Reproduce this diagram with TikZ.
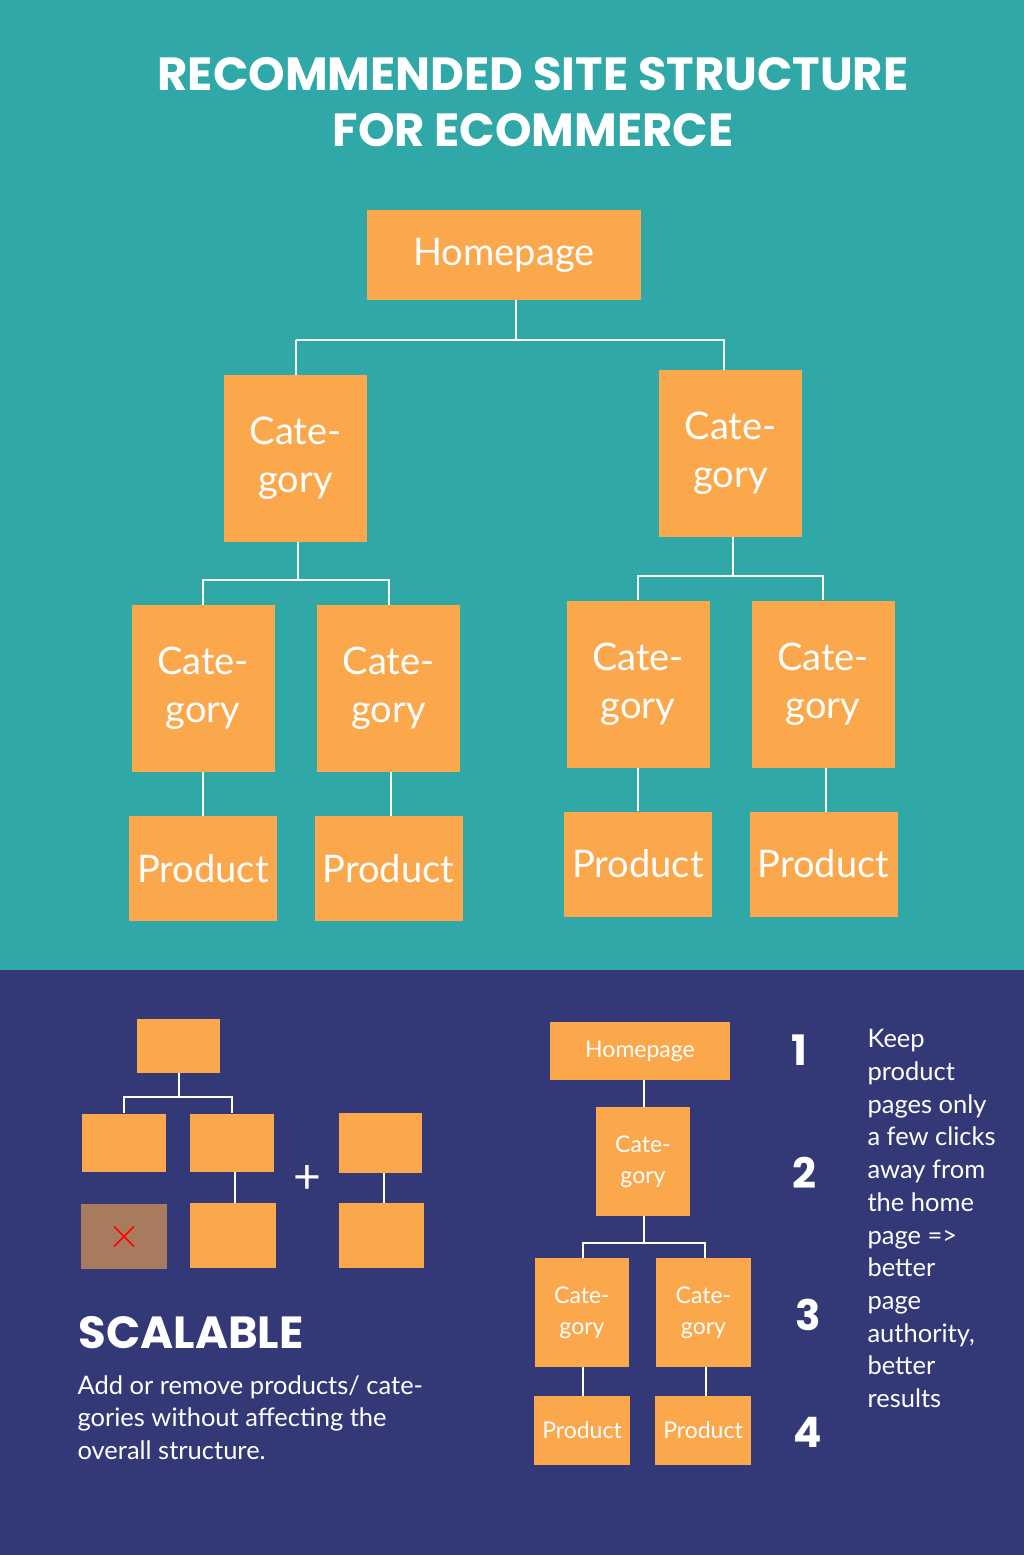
\documentclass[tikz,border=0pt]{standalone}
\usepackage{fontspec}
\setmainfont{Lato}
\newfontfamily\titlefont{Poppins}
\definecolor{teal}{HTML}{31A8A8}
\definecolor{navy}{HTML}{333877}
\definecolor{orng}{HTML}{FBA74B}
\definecolor{brwn}{HTML}{A87B5E}
\begin{document}
\begin{tikzpicture}[x=1pt,y=-1pt,
  box/.style={fill=orng,inner sep=0pt,text=white,align=center,
    font=\fontsize{38}{48}\selectfont},
  link/.style={draw=white,line width=2pt}
]
\useasboundingbox (0,0) rectangle (1024,1555);
\fill[teal] (0,0) rectangle (1024,970);
\fill[navy] (0,970) rectangle (1024,1555);
\node[text=white,font=\titlefont\bfseries\fontsize{46.5}{56}\selectfont,align=center] (title) at (533,102)
  {RECOMMENDED SITE STRUCTURE\\FOR ECOMMERCE};
% big tree
\node[box,minimum width=274pt,minimum height=90pt] (home) at (504,255) {Homepage};
\foreach \n/\x/\y in {catl/295.5/458.5,catr/730.5/453.5,catll/203/688.5,catlr/388.5/688.5,catrl/638/684,catrr/823/684}
  \node[box,minimum width=143pt,minimum height=167pt] (\n) at (\x,\y) {Cate-\\gory};
\foreach \n/\x/\y in {prll/203/868.5,prlr/388.5/868.5,prrl/638/864,prrr/823.5/864}
  \node[box,minimum width=148pt,minimum height=105pt] (\n) at (\x,\y) {Product};
\draw[link] (home.south) ++(12,0) coordinate (h0) -- ++(0,40) coordinate (h1);
\draw[link] (catl.north) ++(0,-35) -| (catl.north) (catl.north) ++(0,-35) -- ++(428,0) coordinate (h2) -- (h2 |- catr.north);
\draw[link] (catl.south) ++(2,0) -- ++(0,38) coordinate (l1);
\draw[link] (catll.north) -- (catll.north |- l1) -- (catlr.north |- l1) -- (catlr.north);
\draw[link] (catr.south) ++(2,0) -- ++(0,39) coordinate (r1);
\draw[link] (catrl.north) -- (catrl.north |- r1) -- (catrr.north |- r1) -- (catrr.north);
\draw[link] (catll.south) -- (prll.north);
\draw[link] (catlr.south) ++(2,0) -- ++(0,44);
\draw[link] (catrl.south) -- (prrl.north);
\draw[link] (catrr.south) ++(3,0) -- ++(0,44);
% small scalable tree
\tikzset{tiny/.style={fill=orng,minimum width=84pt,minimum height=58pt,inner sep=0pt}}
\node[tiny,minimum width=83pt,minimum height=54pt] (s0) at (178.5,1046) {};
\node[tiny] (s1) at (124,1142.5) {};
\node[tiny] (s2) at (232,1142.5) {};
\node[fill=brwn,minimum width=86pt,minimum height=65pt,inner sep=0pt] (sx) at (124,1236.5) {};
\draw[red,line width=1.5pt] ([shift={(-10,-10)}]sx.center) -- ([shift={(10,10)}]sx.center)
  ([shift={(-10,10)}]sx.center) -- ([shift={(10,-10)}]sx.center);
\node[tiny,minimum width=86pt,minimum height=65pt] (s3) at (233,1235.5) {};
\node[tiny,minimum width=83pt,minimum height=60pt] (s4) at (380.5,1143) {};
\node[tiny,minimum width=85pt,minimum height=65pt] (s5) at (381.5,1235.5) {};
\node[text=white,font=\fontsize{48}{48}\selectfont] (plus) at (307,1179) {+};
\draw[link] (s0.south) -- ++(0,24) coordinate (s01);
\draw[link] (s1.north) -- (s1.north |- s01) -- (s2.north |- s01) -- (s2.north);
\draw[link] (s2.south) ++(3,0) -- ++(0,31);
\draw[link] (s4.south) ++(3,0) -- ++(0,30);
\node[anchor=west,text=white,font=\titlefont\bfseries\fontsize{45}{45}\selectfont] (scal) at (75,1333) {SCALABLE};
\node[anchor=north west,text=white,align=left,font=\fontsize{25.5}{32.5}\selectfont] (desc) at (74,1372)
  {Add or remove products/ cate-\\gories without affecting the\\overall structure.};
% small site tree
\tikzset{mini/.style={box,font=\fontsize{23}{31}\selectfont}}
\node[mini,minimum width=180pt,minimum height=58pt] (mh) at (640,1051) {Homepage};
\node[mini,minimum width=94pt,minimum height=109pt] (mc) at (643,1161.5) {Cate-\\gory};
\node[mini,minimum width=94pt,minimum height=109pt] (mcl) at (582,1312.5) {Cate-\\gory};
\node[mini,minimum width=95pt,minimum height=109pt] (mcr) at (703.5,1312.5) {Cate-\\gory};
\node[mini,minimum width=96pt,minimum height=69pt] (mpl) at (582,1430.5) {Product};
\node[mini,minimum width=96pt,minimum height=69pt] (mpr) at (703,1430.5) {Product};
\draw[link] (mc.north) ++(1,0) -- ++(0,-27);
\draw[link] (mc.south) ++(1,0) -- ++(0,27) coordinate (m1);
\draw[link] (mcl.north) ++(1,0) |- (m1) -| ([xshift=1pt]mcr.north);
\draw[link] (mcl.south) ++(1,0) -- ++(0,29);
\draw[link] (mcr.south) ++(2,0) -- ++(0,29);
\foreach \t/\x/\y in {1/799/1050,2/804/1173,3/808/1315,4/808/1432}
  \node[text=white,font=\titlefont\bfseries\fontsize{42}{42}\selectfont] (num\t) at (\x,\y) {\t};
\node[anchor=north west,text=white,align=left,font=\fontsize{25.5}{32.7}\selectfont] (keep) at (864,1026)
  {Keep\\product\\pages only\\a few clicks\\away from\\the home\\page =>\\better\\page\\authority,\\better\\results};
\end{tikzpicture}
\end{document}
